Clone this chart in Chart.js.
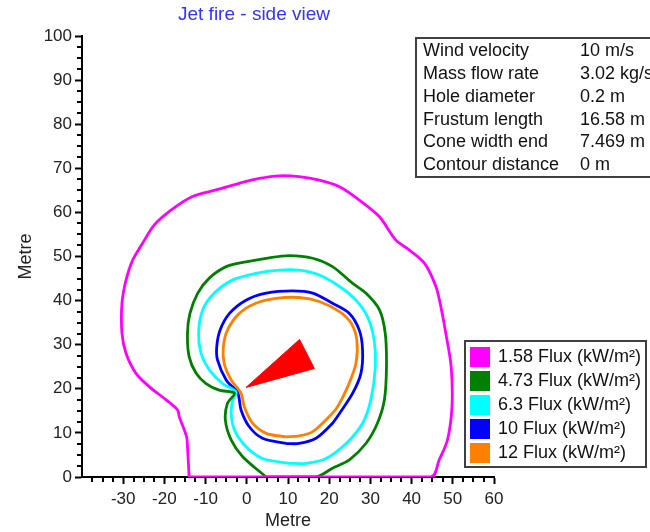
<!DOCTYPE html>
<html><head><meta charset="utf-8">
<script src="https://cdn.jsdelivr.net/npm/chart.js@4.4.0/dist/chart.umd.min.js"></script>
<style>html,body{margin:0;padding:0;background:#fff;overflow:hidden}</style>
</head><body>
<canvas id="c" width="650" height="532"></canvas>
<script>
// ---- text ----
const chartTitle = 'Jet fire - side view';
const axisTitleX = 'Metre';
const axisTitleY = 'Metre';
const infoLabels = ['Wind velocity', 'Mass flow rate', 'Hole diameter', 'Frustum length', 'Cone width end', 'Contour distance'];
const infoValues = ['10 m/s', '3.02 kg/s', '0.2 m', '16.58 m', '7.469 m', '0 m'];
const seriesNames = ['1.58 Flux (kW/m²)', '4.73 Flux (kW/m²)', '6.3 Flux (kW/m²)', '10 Flux (kW/m²)', '12 Flux (kW/m²)'];

// ---- axis ranges / tick labels ----
const xRange = [-40, 60];
const yRange = [0, 100];
const xTickLabels = [-30, -20, -10, 0, 10, 20, 30, 40, 50, 60];
const yTickLabels = [0, 10, 20, 30, 40, 50, 60, 70, 80, 90, 100];
const minorStep = 2.5;

// ---- contour data (metres) ----
const flux158X = [-14.0, -14.4, -14.6, -16.4, -16.8, -19.6, -23.7, -26.9, -29.3, -30.3, -30.3, -29.3, -27.7, -25.3, -22.5, -18.4, -13.2, -7.5, -1.8, 3.0, 7.9, 12.7, 17.6, 22.5, 27.3, 32.2, 36.2, 39.4, 43.1, 45.9, 47.1, 48.3, 49.6, 49.8, 48.7, 46.7, 44.7, -14.0];
const flux158Y = [0, 6.9, 9.1, 13.7, 15.2, 17.5, 20.5, 23.5, 28.0, 32.6, 39.4, 44.7, 49.2, 53.0, 57.1, 60.5, 63.6, 65.1, 66.6, 67.7, 68.3, 68.1, 67.3, 65.8, 62.8, 59.0, 53.7, 51.5, 48.5, 43.2, 38.6, 32.6, 25.0, 15.9, 8.4, 3.9, 0, 0];

const flux473X = [4.7, -1.0, -3.8, -5.2, -4.7, -3.0, -6.7, -9.9, -12.3, -14.0, -14.4, -13.8, -11.9, -9.1, -5.0, -0.2, 4.7, 10.3, 16.0, 20.8, 25.7, 28.9, 32.2, 33.6, 33.9, 33.4, 31.7, 28.9, 24.9, 20.8, 16.8, 4.7];
const flux473Y = [0, 4.6, 8.4, 12.9, 16.7, 19.0, 19.7, 21.2, 23.5, 27.3, 32.6, 37.1, 41.7, 45.1, 47.7, 48.8, 49.6, 50.2, 49.6, 47.7, 43.9, 41.7, 37.9, 32.6, 25.0, 17.5, 12.2, 7.6, 3.9, 2.0, 0, 0];

const flux63X = [10.3, 3.8, -0.2, -3.0, -3.8, -3.4, -2.6, -5.9, -9.1, -11.1, -11.7, -10.7, -7.9, -3.4, 2.2, 7.9, 12.7, 17.6, 22.5, 26.5, 29.3, 30.9, 31.2, 30.1, 28.1, 24.1, 19.2, 14.4, 10.3];
const flux63Y = [3.1, 4.2, 6.9, 10.7, 14.4, 17.5, 19.3, 21.2, 24.3, 28.0, 32.6, 37.9, 41.7, 44.7, 46.2, 46.9, 46.9, 45.8, 43.2, 40.1, 36.3, 31.1, 25.0, 17.5, 12.2, 7.6, 4.2, 3.1, 3.1];

const flux10X = [9.5, 3.8, 0.6, -1.4, -2.2, -5.0, -7.1, -7.3, -6.5, -4.2, -0.2, 4.7, 11.1, 16.0, 20.8, 24.9, 27.3, 28.1, 27.7, 25.7, 22.5, 20.8, 16.8, 12.7, 9.5];
const flux10Y = [7.6, 8.8, 11.4, 15.2, 19.0, 22.0, 26.5, 29.5, 33.3, 37.1, 40.1, 41.7, 42.2, 41.7, 39.4, 37.1, 33.3, 28.8, 23.5, 19.0, 14.4, 12.2, 8.8, 7.6, 7.6];

const flux12X = [9.5, 4.7, 1.4, -0.6, -1.4, -3.8, -5.5, -5.7, -4.7, -1.8, 2.2, 7.1, 12.7, 17.6, 22.5, 25.3, 26.7, 26.5, 24.5, 22.0, 20.0, 16.0, 12.7, 9.5];
const flux12Y = [9.1, 9.9, 12.2, 15.9, 19.0, 22.0, 25.8, 29.5, 33.3, 37.1, 39.4, 40.5, 40.7, 39.8, 37.5, 34.9, 31.1, 25.8, 20.5, 15.9, 13.7, 10.3, 9.3, 9.1];

// flame cone (frustum) outline
const coneX = [-0.2, 12.8, 16.4, -0.2];
const coneY = [20.3, 31.2, 24.6, 20.3];

// ---- styles ----
const seriesColors = ['#ff00ff', '#008000', '#00ffff', '#0000ff', '#ff8000'];
const coneColor = '#ff0000';
const FONT = '"Liberation Sans", Arial, sans-serif';

const pts = (xs, ys) => xs.map((x, i) => ({ x, y: ys[i] }));
const contours = [[flux158X, flux158Y], [flux473X, flux473Y], [flux63X, flux63Y], [flux10X, flux10Y], [flux12X, flux12Y]];

const datasets = contours.map((c, i) => ({
  label: seriesNames[i],
  data: pts(c[0], c[1]),
  showLine: true, fill: false, tension: 0.3,
  borderColor: seriesColors[i], backgroundColor: seriesColors[i],
  borderWidth: 2.8, pointRadius: 0, clip: 0
}));
datasets.push({
  label: 'cone', data: pts(coneX, coneY), showLine: true, tension: 0,
  fill: 'shape', borderColor: coneColor, backgroundColor: coneColor,
  borderWidth: 1, pointRadius: 0, clip: 0
});

const decorPlugin = {
  id: 'decor',
  afterDraw(chart) {
    const ctx = chart.ctx;
    const xs = chart.scales.x, ys = chart.scales.y;
    ctx.save();
    // minor ticks
    ctx.strokeStyle = '#000'; ctx.lineWidth = 2;
    ctx.beginPath();
    for (let v = xRange[0] + minorStep; v <= xRange[1] + 1e-9; v += minorStep) {
      if (Math.abs(v % 10) < 1e-6) continue;
      const px = Math.round(xs.getPixelForValue(v));
      ctx.moveTo(px, ys.bottom); ctx.lineTo(px, ys.bottom + 5);
    }
    for (let v = yRange[0] + minorStep; v <= yRange[1] + 1e-9; v += minorStep) {
      if (Math.abs(v % 10) < 1e-6) continue;
      const py = Math.round(ys.getPixelForValue(v));
      ctx.moveTo(xs.left, py); ctx.lineTo(xs.left - 5, py);
    }
    ctx.stroke();

    // title
    ctx.fillStyle = '#3333ff';
    ctx.font = '19px ' + FONT;
    ctx.textAlign = 'center'; ctx.textBaseline = 'middle';
    ctx.fillText(chartTitle, 254, 15);

    // info box
    ctx.fillStyle = '#fff';
    ctx.fillRect(415, 37, 240, 140);
    ctx.strokeStyle = '#404040'; ctx.lineWidth = 2;
    ctx.strokeRect(416, 38, 240, 139);
    ctx.fillStyle = '#111';
    ctx.font = '18px ' + FONT;
    ctx.textAlign = 'left';
    infoLabels.forEach((t, i) => {
      const y = 51 + i * 22.85;
      ctx.fillText(t, 423, y);
      ctx.fillText(infoValues[i], 580, y);
    });

    // legend box
    ctx.fillStyle = '#fff';
    ctx.fillRect(464, 340, 183, 128);
    ctx.strokeStyle = '#404040'; ctx.lineWidth = 2;
    ctx.strokeRect(465, 341, 181, 126);
    seriesNames.forEach((t, i) => {
      const y = 356.7 + i * 24.15;
      ctx.fillStyle = seriesColors[i];
      ctx.fillRect(470, Math.round(y - 10), 20, 20);
      ctx.fillStyle = '#111';
      ctx.fillText(t, 498, y);
    });
    ctx.restore();
  }
};

new Chart(document.getElementById('c'), {
  type: 'scatter',
  data: { datasets },
  options: {
    responsive: false, animation: false, devicePixelRatio: 1,
    layout: { padding: { left: 0, right: 156, top: 36, bottom: 0 }, autoPadding: false },
    plugins: { legend: { display: false }, tooltip: { enabled: false }, title: { display: false } },
    scales: {
      x: {
        type: 'linear', position: 'bottom', min: xRange[0], max: xRange[1],
        afterFit: s => { s.height = 55; },
        afterBuildTicks: s => { s.ticks = xTickLabels.map(v => ({ value: v })); },
        ticks: { color: '#222', font: { size: 17, family: FONT }, padding: 5, maxRotation: 0, autoSkip: false },
        grid: { display: true, drawOnChartArea: false, drawTicks: true, tickLength: 7, tickWidth: 2, tickColor: '#000' },
        border: { display: true, color: '#000', width: 2 },
        title: { display: true, text: axisTitleX, color: '#222', font: { size: 18, family: FONT }, padding: { top: 0, bottom: 0 } }
      },
      y: {
        type: 'linear', position: 'left', min: yRange[0], max: yRange[1],
        afterFit: s => { s.width = 82; },
        afterBuildTicks: s => { s.ticks = yTickLabels.map(v => ({ value: v })); },
        ticks: { color: '#222', font: { size: 17, family: FONT }, padding: 3, autoSkip: false },
        grid: { display: true, drawOnChartArea: false, drawTicks: true, tickLength: 7, tickWidth: 2, tickColor: '#000' },
        border: { display: true, color: '#000', width: 2 },
        title: { display: true, text: axisTitleY, color: '#222', font: { size: 18, family: FONT }, padding: { top: 15, bottom: 0 } }
      }
    }
  },
  plugins: [decorPlugin]
});
</script>
</body></html>
